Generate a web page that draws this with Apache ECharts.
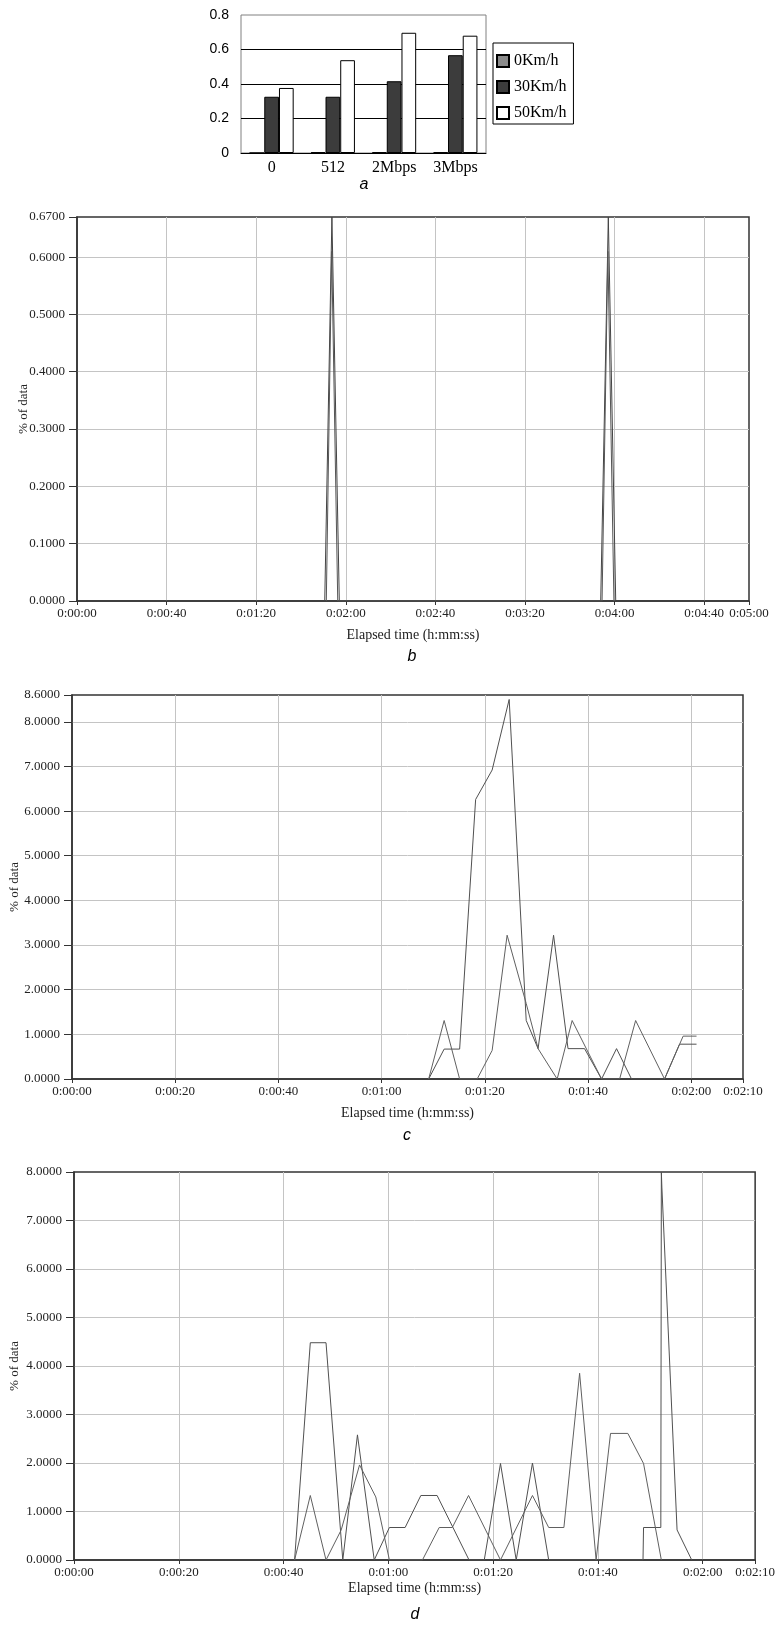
<!DOCTYPE html>
<html><head><meta charset="utf-8">
<script src="https://cdn.jsdelivr.net/npm/echarts@6/dist/echarts.min.js"></script>
<style>html,body{margin:0;padding:0;background:#fff}#c{width:778px;height:1629px}</style>
</head><body><div id="c"></div>
<script>
// ---------- Panel a: bar chart ----------
const barCategories = ['0', '512', '2Mbps', '3Mbps'];
const barSeriesNames = ['0Km/h', '30Km/h', '50Km/h'];
const bar0Kmh = [0, 0.004, 0.004, 0.004];
const bar30Kmh = [0.326, 0.326, 0.416, 0.567];
const bar50Kmh = [0.377, 0.538, 0.697, 0.680];

// ---------- Panel b (times in seconds) ----------
const bTimes1 = [110.6, 113.8, 117.1, 233.8, 237.2, 240.5];
const bVals1  = [0, 0.67, 0, 0, 0.67, 0];
const bTimes2 = [111.3, 113.7, 116.4, 234.4, 237.0, 239.7];
const bVals2  = [0, 0.61, 0, 0, 0.61, 0];

// ---------- Panel c ----------
const cTimes1 = [69.1, 72.1, 75.1, 78.2, 81.4, 84.7, 88.0, 90.3, 93.3, 96.1, 99.3, 102.6, 105.5, 108.4, 114.8, 117.7, 121.0];
const cVals1  = [0, 0.67, 0.67, 6.26, 6.92, 8.50, 1.31, 0.68, 3.22, 0.68, 0.68, 0, 0.68, 0, 0, 0.78, 0.78];
const cTimes2 = [69.1, 72.1, 75.1, 78.5, 81.4, 84.3, 88.0, 90.3, 94.0, 96.9, 102.6, 106.1, 109.2, 114.8, 118.4, 121.0];
const cVals2  = [0, 1.31, 0, 0, 0.64, 3.22, 1.69, 0.68, 0, 1.31, 0, 0, 1.31, 0, 0.96, 0.96];

// ---------- Panel d ----------
const dTimes1 = [42.1, 45.1, 48.1, 51.3, 54.1, 57.3, 60.2, 63.2, 66.2, 69.3, 75.4, 78.3, 81.4, 84.4, 87.5, 90.6, 108.6, 108.7, 112.0, 112.1, 112.2, 115.1, 117.9];
const dVals1  = [0, 4.48, 4.48, 0, 2.58, 0, 0.67, 0.67, 1.33, 1.33, 0, 0, 1.99, 0, 2.0, 0, 0, 0.67, 0.67, 8.0, 7.69, 0.62, 0];
const dTimes2 = [42.1, 45.1, 48.1, 51.0, 54.5, 57.6, 60.2, 66.5, 69.7, 72.2, 75.3, 81.4, 87.5, 90.6, 93.5, 96.5, 99.65, 102.4, 105.7, 108.7, 112.1];
const dVals2  = [0, 1.33, 0, 0.62, 1.96, 1.30, 0, 0, 0.67, 0.67, 1.33, 0, 1.33, 0.67, 0.67, 3.85, 0, 2.61, 2.61, 1.99, 0];

const captions = ['a', 'b', 'c', 'd'];
const xName = 'Elapsed time (h:mm:ss)';
const yName = '% of data';

function pairs(t, v) { return t.map((x, i) => [x, v[i]]); }
function pad(n) { return (n < 10 ? '0' : '') + n; }
function hms(s) {
  s = Math.round(s);
  const h = Math.floor(s / 3600), m = Math.floor((s % 3600) / 60), sec = s % 60;
  return h + ':' + pad(m) + ':' + pad(sec);
}
const SERIF = 'Liberation Serif';

function timeAxis(gi, max, interval) {
  return {
    gridIndex: gi, type: 'value', min: 0, max: max, interval: interval,
    name: xName, nameLocation: 'middle', nameGap: gi === 3 ? 21 : 27, nameMoveOverlap: false,
    nameTextStyle: { fontFamily: SERIF, fontSize: 14, color: '#222' },
    axisLine: { show: true, lineStyle: { color: '#333', width: 1.5 } },
    axisTick: { show: true, length: 4, lineStyle: { color: '#333' } },
    axisLabel: { formatter: hms, fontFamily: SERIF, fontSize: 13, color: '#222', margin: 6, showMinLabel: true, showMaxLabel: true },
    splitLine: { show: true, showMinLine: false, showMaxLine: false, lineStyle: { color: '#c4c4c4', width: 1 } }
  };
}
function pctAxis(gi, max, interval, gap) {
  return {
    gridIndex: gi, type: 'value', min: 0, max: max, interval: interval,
    name: yName, nameLocation: 'middle', nameGap: gap, nameMoveOverlap: false,
    nameTextStyle: { fontFamily: SERIF, fontSize: 13, color: '#222' },
    axisLine: { show: true, lineStyle: { color: '#333', width: 1.5 } },
    axisTick: { show: true, length: 8, lineStyle: { color: '#333' } },
    axisLabel: { formatter: v => v.toFixed(4), fontFamily: SERIF, fontSize: 13, color: '#222', margin: 12, showMinLabel: true, showMaxLabel: true },
    splitLine: { show: true, showMinLine: false, showMaxLine: false, lineStyle: { color: '#c4c4c4', width: 1 } }
  };
}
function lineSeries(gi, t, v, color) {
  return {
    type: 'line', xAxisIndex: gi, yAxisIndex: gi, data: pairs(t, v),
    symbol: 'none', showSymbol: false, lineStyle: { color: color, width: 1 }, itemStyle: { color: color }
  };
}

const chart = echarts.init(document.getElementById('c'));
chart.setOption({
  animation: false,
  backgroundColor: '#fff',
  grid: [
    { left: 241, top: 15, width: 245, height: 138, show: true, borderColor: '#808080', borderWidth: 1, backgroundColor: 'transparent' },
    { left: 77, top: 217, width: 672, height: 384, show: true, borderColor: '#333', borderWidth: 1.5, backgroundColor: 'transparent' },
    { left: 72, top: 695, width: 671, height: 384, show: true, borderColor: '#333', borderWidth: 1.5, backgroundColor: 'transparent' },
    { left: 74, top: 1172, width: 683, height: 388, show: true, borderColor: '#333', borderWidth: 1.5, backgroundColor: 'transparent' }
  ],
  legend: {
    data: barSeriesNames, orient: 'vertical', left: 493, top: 43,
    icon: 'rect', itemWidth: 12, itemHeight: 12, itemGap: 10,
    padding: [10, 7, 3, 3], borderColor: '#000', borderWidth: 1,
    textStyle: { fontFamily: SERIF, fontSize: 16, color: '#000' }
  },
  xAxis: [
    {
      gridIndex: 0, type: 'category', data: barCategories,
      axisLine: { lineStyle: { color: '#000' } },
      axisTick: { inside: true, length: 5, lineStyle: { color: '#000' } },
      axisLabel: { fontFamily: SERIF, fontSize: 16, color: '#000', margin: 7 }
    },
    timeAxis(1, 300, 40),
    timeAxis(2, 130, 20),
    timeAxis(3, 130, 20)
  ],
  yAxis: [
    {
      gridIndex: 0, type: 'value', min: 0, max: 0.8, interval: 0.2,
      axisLine: { show: false }, axisTick: { show: false },
      axisLabel: { fontFamily: 'Liberation Sans', fontSize: 14, color: '#000', margin: 12 },
      splitLine: { show: true, showMinLine: false, showMaxLine: false, lineStyle: { color: '#000', width: 1 } }
    },
    pctAxis(1, 0.67, 0.1, 47),
    pctAxis(2, 8.6, 1, 51),
    pctAxis(3, 8, 1, 53)
  ],
  graphic: [
    { type: 'text', x: 364, y: 185, style: { text: captions[0], font: 'italic 16px "Liberation Sans"', fill: '#000', align: 'center', verticalAlign: 'middle' } },
    { type: 'text', x: 412, y: 657, style: { text: captions[1], font: 'italic 16px "Liberation Sans"', fill: '#000', align: 'center', verticalAlign: 'middle' } },
    { type: 'text', x: 407, y: 1136, style: { text: captions[2], font: 'italic 16px "Liberation Sans"', fill: '#000', align: 'center', verticalAlign: 'middle' } },
    { type: 'text', x: 415, y: 1615, style: { text: captions[3], font: 'italic 16px "Liberation Sans"', fill: '#000', align: 'center', verticalAlign: 'middle' } }
  ],
  series: [
    { name: barSeriesNames[0], type: 'bar', xAxisIndex: 0, yAxisIndex: 0, data: bar0Kmh, barGap: '0%', barCategoryGap: '28%', itemStyle: { color: '#8a8a8a', borderColor: '#000', borderWidth: 1 } },
    { name: barSeriesNames[1], type: 'bar', xAxisIndex: 0, yAxisIndex: 0, data: bar30Kmh, barGap: '0%', barCategoryGap: '28%', itemStyle: { color: '#3c3c3c', borderColor: '#000', borderWidth: 1 } },
    { name: barSeriesNames[2], type: 'bar', xAxisIndex: 0, yAxisIndex: 0, data: bar50Kmh, barGap: '0%', barCategoryGap: '28%', itemStyle: { color: '#ffffff', borderColor: '#000', borderWidth: 1 } },
    lineSeries(1, bTimes1, bVals1, '#444'),
    lineSeries(1, bTimes2, bVals2, '#555'),
    lineSeries(2, cTimes1, cVals1, '#505050'),
    lineSeries(2, cTimes2, cVals2, '#606060'),
    lineSeries(3, dTimes1, dVals1, '#505050'),
    lineSeries(3, dTimes2, dVals2, '#606060')
  ]
});
</script>
</body></html>
